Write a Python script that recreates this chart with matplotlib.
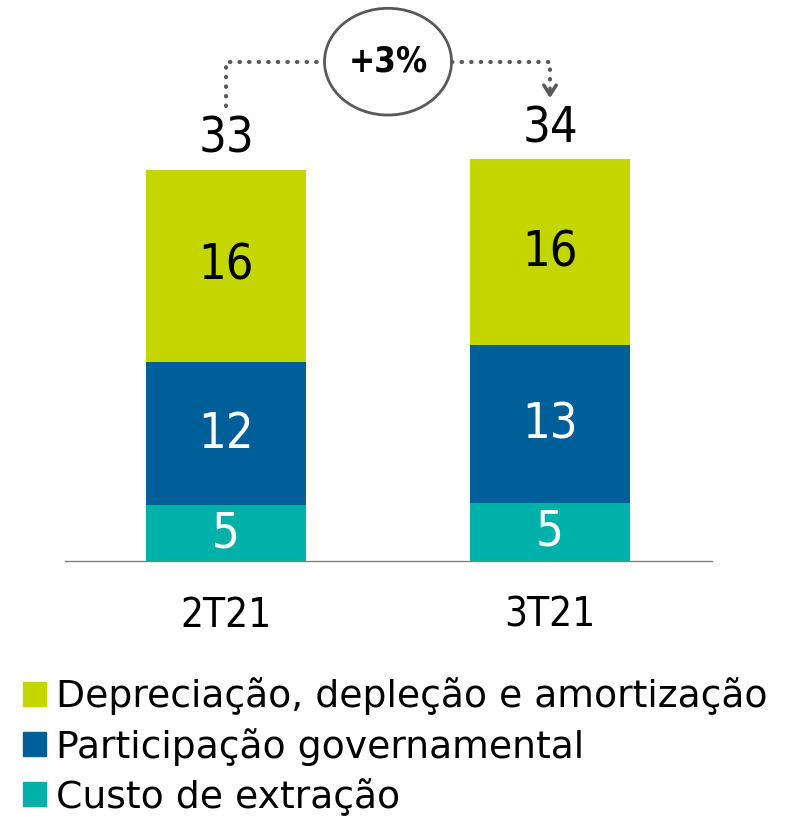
import matplotlib.pyplot as plt
from matplotlib.patches import Ellipse, Patch

plt.rcParams['font.family'] = ['DejaVu Sans']
plt.rcParams['font.stretch'] = 'condensed'

periods = ['2T21', '3T21']
custo = [4.7, 4.9]
participacao = [12.1, 13.3]
depreciacao = [16.2, 15.7]
variacao = '+3%'
series_names = ['Custo de extração', 'Participação governamental',
                'Depreciação, depleção e amortização']
colors = ['#00B1A9', '#005F98', '#C4D600']
text_colors = ['white', 'white', 'black']

fig = plt.figure(figsize=(7.92, 8.22), dpi=100)
ax = fig.add_axes([65 / 792, (822 - 561) / 822, 647 / 792, 561 / 822])

x = list(range(len(periods)))
bottom = [0.0] * len(periods)
for vals, col, tcol in zip([custo, participacao, depreciacao], colors, text_colors):
    ax.bar(x, vals, 0.494, bottom=bottom, color=col)
    for xi, b, v in zip(x, bottom, vals):
        ax.text(xi, b + v / 2, f'{round(v)}', ha='center', va='center',
                fontsize=35, color=tcol)
    bottom = [b + v for b, v in zip(bottom, vals)]

totals = bottom
for xi, t in zip(x, totals):
    ax.annotate(f'{round(t)}', (xi, t), xytext=(0, 12), textcoords='offset points',
                ha='center', va='baseline', fontsize=35)

ax.set_xlim(-0.497, 1.5)
ax.set_ylim(0, 47.3)
ax.set_xticks(x)
ax.set_xticklabels(periods, fontsize=29)
ax.tick_params(axis='x', length=0, pad=25)
ax.set_yticks([])
for s in ['top', 'left', 'right']:
    ax.spines[s].set_visible(False)
ax.spines['bottom'].set_color('#808080')
ax.spines['bottom'].set_linewidth(1)

# variation bracket
gray = '#595959'
level = max(totals) + 8.2
ell_w, ell_h = 0.392, 9.0
dot = dict(color=gray, lw=3, linestyle=(0, (0.1, 2.2)), dash_capstyle='round',
           solid_capstyle='round', clip_on=False)
ax.plot([x[0], x[0], 0.5 - ell_w / 2], [totals[0] + 5.4, level, level], **dot)
ax.plot([0.5 + ell_w / 2, x[1], x[1]], [level, level, totals[1] + 6.4], **dot)
ax.annotate('', xy=(x[1], totals[1] + 4.9), xytext=(x[1], totals[1] + 6.2),
            arrowprops=dict(arrowstyle='->,head_length=0.7,head_width=0.45',
                            color=gray, lw=2.5), annotation_clip=False)
ax.add_patch(Ellipse((0.5, level), ell_w, ell_h, fill=False, edgecolor=gray,
                     lw=2, clip_on=False))
ax.text(0.5, level, variacao, ha='center', va='center', fontsize=25,
        fontweight='bold')

handles = [Patch(color=c) for c in colors[::-1]]
fig.legend(handles, series_names[::-1], loc='upper left',
           bbox_to_anchor=(0.029, 0.176), frameon=False,
           prop=dict(family='DejaVu Sans', stretch='normal', size=27.2),
           handlelength=0.6, handleheight=0.6, handletextpad=0.27,
           labelspacing=0.33, borderpad=0, borderaxespad=0)

fig.savefig('out.png', dpi=100)
